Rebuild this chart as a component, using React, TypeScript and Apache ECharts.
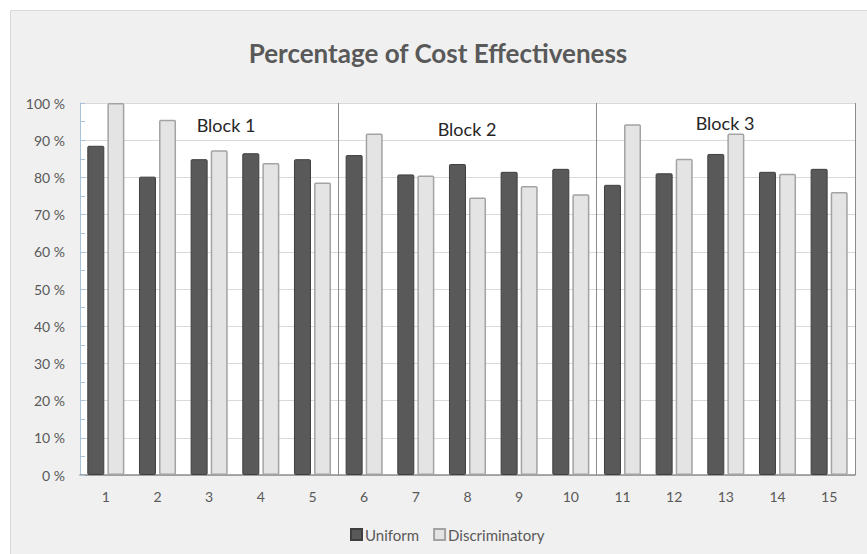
import React, { useEffect, useRef } from 'react';
import * as echarts from 'echarts';

const categories = ['1', '2', '3', '4', '5', '6', '7', '8', '9', '10', '11', '12', '13', '14', '15'];
const uniform = [88.5, 80.2, 84.9, 86.5, 84.9, 86.0, 80.8, 83.6, 81.5, 82.3, 78.0, 81.1, 86.3, 81.5, 82.3];
const discriminatory = [100, 95.5, 87.3, 83.9, 78.6, 91.8, 80.5, 74.6, 77.7, 75.5, 94.3, 85.0, 91.8, 81.0, 76.1];
const seriesNames = ['Uniform', 'Discriminatory'];
const blockLabels = ['Block 1', 'Block 2', 'Block 3'];
const blockBoundaries = [5, 10, 15];
const titleText = 'Percentage of Cost Effectiveness';

const FONT = 'Lato, "Open Sans", sans-serif';

export default function App() {
  const ref = useRef<HTMLDivElement>(null);
  useEffect(() => {
    if (!ref.current) return;
    const chart = echarts.init(ref.current, null, { renderer: 'svg' });
    chart.setOption({
      animation: false,
      backgroundColor: '#ffffff',
      textStyle: { fontFamily: FONT },
      title: {
        text: titleText,
        left: 433,
        textAlign: 'center',
        top: 35,
        textStyle: { fontFamily: FONT, fontSize: 26, fontWeight: 'bold', color: '#595959' },
      },
      legend: {
        data: seriesNames,
        left: 345,
        top: 522,
        icon: 'rect',
        itemWidth: 11,
        itemHeight: 11,
        itemGap: 14,
        textStyle: { fontFamily: FONT, fontSize: 15, color: '#595959', padding: [0, 0, 0, -2] },
      },
      graphic: [
        {
          type: 'rect',
          z: -10,
          silent: true,
          shape: { x: 10.5, y: 10.5, width: 900, height: 600 },
          style: { fill: '#f0f0f0', stroke: '#d9d9d9', lineWidth: 1 },
        },
        {
          type: 'text', x: 226, y: 125, z: 20,
          style: { text: blockLabels[0], font: `18px ${FONT}`, fill: '#262626', align: 'center', verticalAlign: 'middle' },
        },
        {
          type: 'text', x: 467, y: 129, z: 20,
          style: { text: blockLabels[1], font: `18px ${FONT}`, fill: '#262626', align: 'center', verticalAlign: 'middle' },
        },
        {
          type: 'text', x: 725, y: 123, z: 20,
          style: { text: blockLabels[2], font: `18px ${FONT}`, fill: '#262626', align: 'center', verticalAlign: 'middle' },
        },
      ],
      grid: {
        left: 80,
        right: 12,
        top: 103,
        bottom: 79,
        show: true,
        backgroundColor: '#ffffff',
        borderWidth: 0,
      },
      xAxis: {
        type: 'category',
        data: categories,
        axisLine: { show: true, lineStyle: { color: '#8c8c8c', width: 1.5 } },
        axisTick: { show: false },
        axisLabel: { color: '#595959', fontSize: 14, margin: 14, fontFamily: FONT },
        splitLine: {
          show: true,
          interval: (index: number) => blockBoundaries.includes(index),
          lineStyle: { color: '#8c8c8c', width: 1 },
        },
      },
      yAxis: {
        type: 'value',
        min: 0,
        max: 100,
        interval: 10,
        axisLine: { show: true, lineStyle: { color: '#a9c2da', width: 1 } },
        axisTick: { show: true, inside: true, length: 5, lineStyle: { color: '#a9c2da' } },
        minorTick: { show: true, splitNumber: 2, length: 5, lineStyle: { color: '#a9c2da' } },
        axisLabel: { color: '#595959', fontSize: 14, margin: 15, formatter: '{value} %', fontFamily: FONT },
        splitLine: { show: true, lineStyle: { color: '#d9d9d9', width: 1 } },
      },
      series: [
        {
          name: seriesNames[0],
          type: 'bar',
          data: uniform,
          barWidth: 17,
          barGap: '18%',
          itemStyle: { color: '#595959', borderColor: '#3f3f3f', borderWidth: 1, borderRadius: 1 },
        },
        {
          name: seriesNames[1],
          type: 'bar',
          data: discriminatory,
          barWidth: 17,
          barGap: '18%',
          itemStyle: { color: '#e4e4e4', borderColor: '#a3a3a3', borderWidth: 1.5, borderRadius: 1 },
        },
      ],
    });
    return () => chart.dispose();
  }, []);
  return (
    <div
      ref={ref}
      style={{ position: 'fixed', left: 0, top: 0, width: 867, height: 554 }}
    />
  );
}
